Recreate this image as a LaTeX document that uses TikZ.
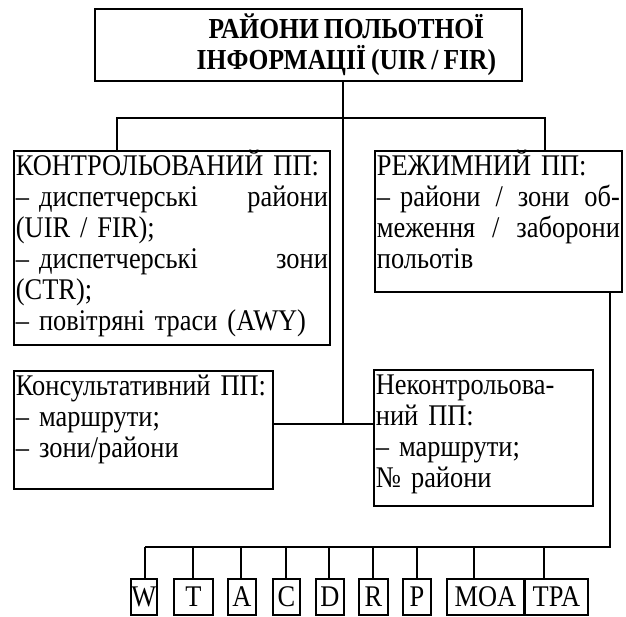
\documentclass[tikz,border=0pt]{standalone}
\usepackage{fontspec}
\setmainfont[FakeStretch = 0.88, WordSpace = 0.8]{Liberation Serif}
\begin{document}
\begin{tikzpicture}[
  x = 1pt,
  y = -1pt,
  every path/.style = {
    line width = 1.8pt
  },
  blok/.style = {
    draw,
    anchor = north west,
    align = left,
    inner xsep = 2pt,
    inner ysep = 2pt,
    text height = 23pt,
    font = \fontsize{30}{31}\selectfont
  },
  golovna/.style = {
    draw,
    anchor = north west,
    align = center,
    inner sep = 0pt,
    minimum width = 427pt,
    minimum height = 72pt,
    font = \fontsize{29}{31}\selectfont\bfseries
  },
  litera/.style = {
    draw,
    anchor = north west,
    inner sep = 0pt,
    minimum height = 36pt,
    font = \fontsize{30}{31}\selectfont
  }
]
  \useasboundingbox (0, 0) rectangle (626, 616);

  \node[golovna] (title) at (94, 8)
    {\hspace*{76pt}РАЙОНИ ПОЛЬОТНОЇ\\\hspace*{76pt}ІНФОРМАЦІЇ (UIR / FIR)};

  \node[blok, text width = 312pt, text depth = 167pt] (kontr) at (13, 150)
    {КОНТРОЛЬОВАНИЙ ПП:\\
     – диспетчерські\hfill райони\\
     (UIR / FIR);\\
     – диспетчерські\hfill зони\\
     (CTR);\\
     – повітряні траси (AWY)};
  \node[blok, text width = 243pt, text depth = 114pt] (rezh) at (374, 150)
    {РЕЖИМНИЙ ПП:\\
     – райони\hfill/\hfill зони\hfill об-\\
     меження\hfill/\hfill заборони\\
     польотів};
  \node[blok, text width = 255pt, text depth = 91pt] (konsult) at (13, 370)
    {Консультативний ПП:\\
     – маршрути;\\
     – зони/райони};
  \node[blok, text width = 215pt, text depth = 109pt] (nekontr) at (373, 369)
    {Неконтрольова-\\
     ний ПП:\\
     – маршрути;\\
     № райони};

  \coordinate (fork-l) at (117, 118);
  \coordinate (fork-r) at (545, 118);
  \coordinate (hub) at (343, 424);
  \coordinate (bus) at (610, 547);

  \draw (title.south -| hub) -- (hub);
  \draw (kontr.north -| fork-l) -- (fork-l) -- (fork-r) -- (rezh.north -| fork-r);
  \draw (konsult.east |- hub) -- (nekontr.west |- hub);

  \foreach \nm/\txt/\xa/\bw/\dx in {w/W/130/26/145, t/T/173/39/193, a/A/227/28/241,
      c/C/272/27/286, d/D/315/28/329, r/R/358/29/373, p/P/402/28/417,
      moa/MOA/446/77/474, tpa/TPA/524/63/544} {
    \node[litera, minimum width = \bw pt] (\nm) at (\xa, 578) {\txt};
    \coordinate (\nm-up) at (\dx, 547);
    \draw (\nm-up) -- (\nm-up |- \nm.north);
  }

  \draw (rezh.south -| bus) -- (bus) -- (w-up);
\end{tikzpicture}
\end{document}
